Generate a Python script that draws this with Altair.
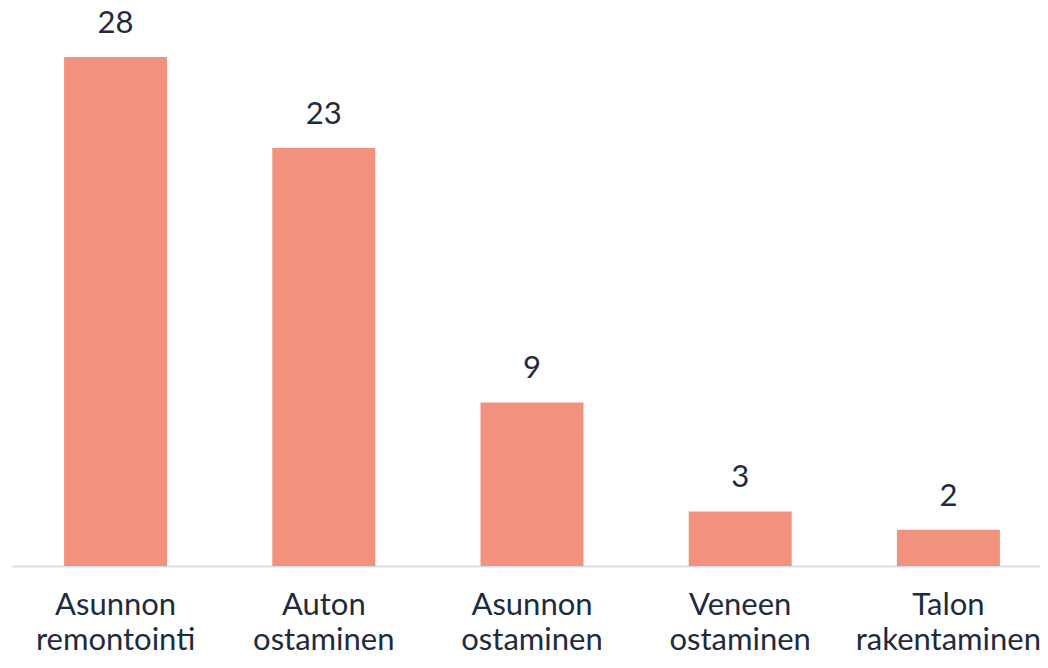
import altair as alt
import pandas as pd

categories = ["Asunnon remontointi", "Auton ostaminen", "Asunnon ostaminen",
              "Veneen ostaminen", "Talon rakentaminen"]
values = [28, 23, 9, 3, 2]

df = pd.DataFrame({"category": categories, "value": values})

FONT = "Lato"
TEXT = "#1d2b3e"

base = alt.Chart(df).encode(
    x=alt.X("category:N", sort=categories, title=None,
            scale=alt.Scale(paddingInner=0.505, paddingOuter=0.25, range=[0, 1040]),
            axis=alt.Axis(labelExpr="split(datum.label, ' ')", labelAngle=0,
                          labelFont=FONT, labelFontSize=31, labelColor=TEXT,
                          labelLineHeight=35, labelPadding=24, ticks=False,
                          labelLimit=0, labelOverlap=False,
                          domain=True, domainColor="#d3dfea", domainWidth=2,
                          grid=False, labelBaseline="top")),
    y=alt.Y("value:Q", title=None, scale=alt.Scale(domain=[0, 30.7], nice=False),
            axis=None),
)

bars = base.mark_bar(color="#f1917e", size=103)
labels = base.mark_text(dy=-24, baseline="alphabetic", font=FONT, fontSize=31,
                        color=TEXT).encode(text="value:Q")

chart = (bars + labels).properties(
    width=1028, height=558,
    autosize=alt.AutoSizeParams(type="none"),
    padding={"left": 4, "top": 0, "right": 0, "bottom": 94},
).configure(background="white").configure_view(stroke=None)

chart.save("out.html", embed_options={"renderer": "svg", "actions": False})
